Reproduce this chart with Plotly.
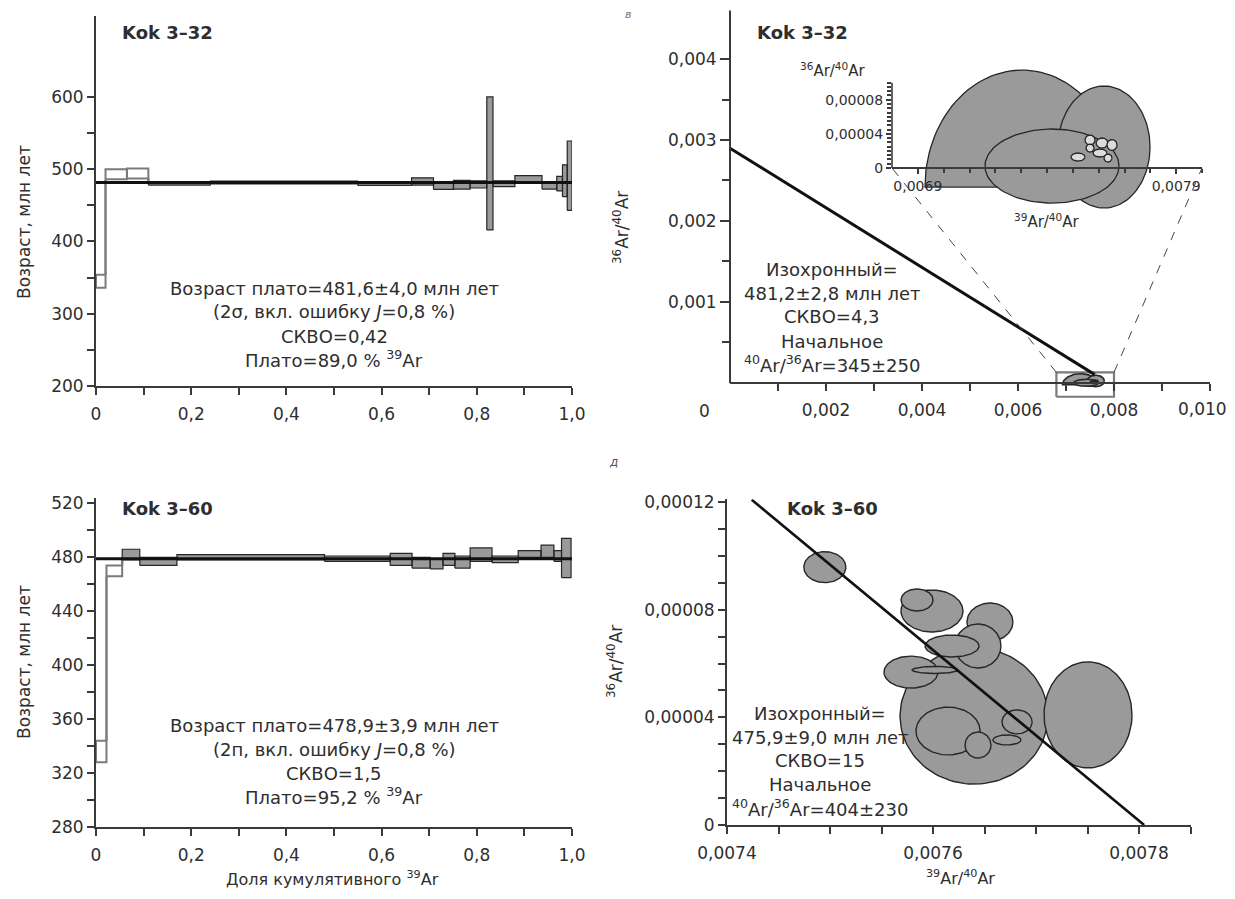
import numpy as np
import plotly.graph_objects as go

W, H = 1235, 899          # target picture size
OFF = 8                   # page body margin in the browser
FW, FH = W - 2 * OFF, H - 2 * OFF   # figure size so that it fits the window exactly
FONT = "DejaVu Sans"
TXT = "#2e2e2e"
AX = "#3a3a3a"
FILL = "#9a9a9a"
EDGE = "#262626"
OPEN_EDGE = "#7a7a7a"

# ======================= DATA =======================
# Kok 3-32 age spectrum: step start/end (cumulative 39Ar), age (Ma), error
k32_start = [0.000, 0.020, 0.065, 0.110, 0.240, 0.550, 0.663, 0.709, 0.751, 0.786, 0.821, 0.834, 0.880, 0.937, 0.968, 0.980, 0.990]
k32_end   = [0.020, 0.065, 0.110, 0.240, 0.550, 0.663, 0.709, 0.751, 0.786, 0.821, 0.834, 0.880, 0.937, 0.968, 0.980, 0.990, 1.000]
k32_age   = [345, 493, 494, 480, 481.5, 479.5, 483, 477, 478.5, 479, 508, 480, 486, 477.5, 480, 484, 491]
k32_err   = [9, 7, 7, 2, 2, 2, 5, 5, 6, 5, 92, 4, 5, 5, 10, 22, 48]
k32_in_plateau = [0, 0, 0, 1, 1, 1, 1, 1, 1, 1, 1, 1, 1, 1, 1, 1, 1]
k32_plateau_age = 481.6

# Kok 3-60 age spectrum
k60_start = [0.000, 0.022, 0.055, 0.092, 0.170, 0.480, 0.618, 0.664, 0.702, 0.729, 0.754, 0.786, 0.832, 0.887, 0.935, 0.962, 0.978]
k60_end   = [0.022, 0.055, 0.092, 0.170, 0.480, 0.618, 0.664, 0.702, 0.729, 0.754, 0.786, 0.832, 0.887, 0.935, 0.962, 0.978, 0.998]
k60_age   = [336, 470, 482, 477, 480, 479, 478.5, 476, 475, 478.5, 476.5, 482, 478.5, 482.5, 484.5, 481, 479.5]
k60_err   = [8, 4, 4, 3, 2, 2, 4.5, 4, 3.5, 4.5, 4.5, 5, 2.5, 2.5, 4.5, 4, 14.5]
k60_in_plateau = [0, 0, 1, 1, 1, 1, 1, 1, 1, 1, 1, 1, 1, 1, 1, 1, 1]
k60_plateau_age = 478.9

# Kok 3-32 isochron: error ellipses (39Ar/40Ar, 36Ar/40Ar)
b_ell_cx = [0.0073032, 0.0076207, 0.0074194, 0.00752, 0.0075665, 0.0076129, 0.0076516, 0.0076052, 0.0076361, 0.0075665]
b_ell_cy = [-2.23e-5, 2.46e-5, 2.3e-6, 1.29e-5, 3.28e-5, 2.93e-5, 2.7e-5, 1.76e-5, 1.17e-5, 2.34e-5]
b_ell_rx = [3.755e-4, 1.781e-4, 2.594e-4, 2.7e-5, 1.94e-5, 2.3e-5, 1.94e-5, 2.7e-5, 1.55e-5, 1.55e-5]
b_ell_ry = [1.371e-4, 7.15e-5, 4.34e-5, 4.7e-6, 5.9e-6, 5.9e-6, 6.4e-6, 4.7e-6, 4.7e-6, 4.7e-6]
b_ell_floor = [-2.23e-5, None, None, None, None, None, None, None, None, None]
b_ell_small = [0, 0, 0, 1, 1, 1, 1, 1, 1, 1]
b_initial_ratio = 345.0      # 40Ar/36Ar intercept
b_x_intercept = 0.00788      # 39Ar/40Ar intercept
b_line_x = [0.0, 0.0076]
b_zoom_box_x = [0.0068, 0.0080]
b_zoom_box_y = [-0.00017, 0.00013]

# Kok 3-60 isochron: error ellipses
d_ell_cx = [0.0076398, 0.0077505, 0.007599, 0.0076553, 0.0076437, 0.0076185, 0.0075845, 0.0075786, 0.007602, 0.007495, 0.0076146, 0.0076437, 0.0076816, 0.0076718]
d_ell_cy = [4.05e-5, 4.09e-5, 7.95e-5, 7.54e-5, 6.65e-5, 6.65e-5, 8.36e-5, 5.68e-5, 5.76e-5, 9.58e-5, 3.49e-5, 2.97e-5, 3.83e-5, 3.16e-5]
d_ell_rx = [7.18e-5, 4.27e-5, 3.01e-5, 2.23e-5, 2.23e-5, 2.62e-5, 1.55e-5, 2.62e-5, 2.23e-5, 2.04e-5, 3.11e-5, 1.26e-5, 1.46e-5, 1.36e-5]
d_ell_ry = [2.53e-5, 1.97e-5, 7.8e-6, 7.06e-6, 8.17e-6, 4.09e-6, 4.09e-6, 5.94e-6, 1.3e-6, 5.76e-6, 8.9e-6, 4.83e-6, 4.46e-6, 1.86e-6]
d_initial_ratio = 404.0
d_x_intercept = 0.007805
d_line_x = [0.007424, 0.007805]

# Tick values / labels
a_xticks = [0, 0.2, 0.4, 0.6, 0.8, 1.0]
a_xlabels = ["0", "0,2", "0,4", "0,6", "0,8", "1,0"]
a_xminor = [0.1, 0.3, 0.5, 0.7, 0.9]
a_yticks = [200, 300, 400, 500, 600]
a_yminor = [250, 350, 450, 550]
c_yticks = [280, 320, 360, 400, 440, 480, 520]
c_yminor = [300, 340, 380, 420, 460, 500]
b_xticks = [0.002, 0.004, 0.006, 0.008, 0.010]
b_xlabels = ["0,002", "0,004", "0,006", "0,008", "0,010"]
b_xminor = [0.001, 0.003, 0.005, 0.007, 0.009]
b_yticks = [0.001, 0.002, 0.003, 0.004]
b_ylabels = ["0,001", "0,002", "0,003", "0,004"]
b_yminor = [0.0005, 0.0015, 0.0025, 0.0035]
i_xticks = [0.0069, 0.0079]
i_xlabels = ["0,0069", "0,0079"]
i_xminor = [0.0070, 0.0071, 0.0072, 0.0073, 0.0074, 0.0075, 0.0076, 0.0077, 0.0078, 0.0080]
i_yticks = [0, 0.00004, 0.00008]
i_ylabels = ["0", "0,00004", "0,00008"]
i_yminor = [0.000005 * k for k in range(1, 21) if k % 8 != 0]
i_ytop = 0.0001
d_xticks = [0.0074, 0.0076, 0.0078]
d_xlabels = ["0,0074", "0,0076", "0,0078"]
d_xminor = [0.00745, 0.0075, 0.00755, 0.00765, 0.0077, 0.00775, 0.00785]
d_yticks = [0, 0.00004, 0.00008, 0.00012]
d_ylabels = ["0", "0,00004", "0,00008", "0,00012"]
d_yminor = [0.00001, 0.00002, 0.00003, 0.00005, 0.00006, 0.00007, 0.00009, 0.0001, 0.00011]

# ======================= LAYOUT GEOMETRY (screen pixels) =======================
PA = dict(px=(96, 572, 16, 386), xr=[0, 1.0], yr=[200, 712])
PC = dict(px=(96, 572, 498, 827), xr=[0, 1.0], yr=[280, 524])
PB = dict(px=(730, 1210, 10.4, 400.8), xr=[0, 0.0100], yr=[-0.00022, 0.0046])
PD = dict(px=(727, 1190.5, 499.3, 825), xr=[0.0074, 0.00785], yr=[0, 0.000121])
PI = dict(px=(892, 1202, 65.6, 210.7), xr=[0.0068, 0.0080], yr=[-0.00005, 0.00012])


def fx(px):
    return (px - OFF) / FW


def fy(py):
    return 1 - (py - OFF) / FH


def to_paper(p, xv, yv):
    L, R, T, B = p["px"]
    x0, x1 = p["xr"]
    y0, y1 = p["yr"]
    px = L + (xv - x0) / (x1 - x0) * (R - L)
    py = B - (yv - y0) / (y1 - y0) * (B - T)
    return fx(px), fy(py)


def make_axis(p, which, tickvals, ticktext, minor_vals, anchor, fsize=17, **extra):
    L, R, T, B = p["px"]
    if which == "x":
        dom, rng = [fx(L), fx(R)], p["xr"]
    else:
        dom, rng = [fy(B), fy(T)], p["yr"]
    d = dict(domain=dom, range=rng, anchor=anchor, showgrid=False, zeroline=False,
             automargin=False, ticklabeloverflow="allow",
             showline=True, linecolor=AX, linewidth=2,
             tickmode="array", tickvals=tickvals, ticktext=ticktext,
             ticks="outside", ticklen=7, tickwidth=1.5, tickcolor=AX,
             tickfont=dict(family=FONT, size=fsize, color=TXT),
             minor=dict(tickmode="array", tickvals=minor_vals, ticks="outside",
                        ticklen=7, tickwidth=1.5, tickcolor=AX, showgrid=False),
             fixedrange=True)
    d.update(extra)
    return d


fig = go.Figure()


def add_spectrum(xa, ya, start, end, age, err, flag, plateau_age):
    n = len(age)
    cx, cy = [], []
    for i in range(1, n):
        a0, e0, a1, e1 = age[i - 1], err[i - 1], age[i], err[i]
        if a1 - e1 > a0 + e0:
            lo, hi = a0 + e0, a1 - e1
        elif a0 - e0 > a1 + e1:
            lo, hi = a1 + e1, a0 - e0
        else:
            continue
        cx += [start[i], start[i], None]
        cy += [lo, hi, None]
    fig.add_trace(go.Scatter(x=cx, y=cy, mode="lines", xaxis=xa, yaxis=ya,
                             line=dict(color=OPEN_EDGE, width=2.5), hoverinfo="skip"))
    for want, fillc, linec, lw in [(0, "white", OPEN_EDGE, 2), (1, FILL, EDGE, 1.2)]:
        xs, ys = [], []
        for i in range(n):
            if flag[i] != want:
                continue
            x0, x1 = start[i], end[i]
            y0, y1 = age[i] - err[i], age[i] + err[i]
            xs += [x0, x1, x1, x0, x0, None]
            ys += [y0, y0, y1, y1, y0, None]
        fig.add_trace(go.Scatter(x=xs, y=ys, mode="lines", fill="toself", fillcolor=fillc,
                                 xaxis=xa, yaxis=ya, line=dict(color=linec, width=lw),
                                 hoverinfo="skip"))
    fig.add_trace(go.Scatter(x=[0, 1.0], y=[plateau_age, plateau_age], mode="lines",
                             xaxis=xa, yaxis=ya, line=dict(color="#111", width=3),
                             hoverinfo="skip"))


def ellipse_points(cx, cy, rx, ry, floor=None, n=120):
    t = np.linspace(0, 2 * np.pi, n)
    x = cx + rx * np.cos(t)
    y = cy + ry * np.sin(t)
    if floor is not None:
        y = np.maximum(y, floor)
    return x, y


def add_ellipses(xa, ya, cxs, cys, rxs, rys, floors=None, small=None, lw=1.3):
    for k in range(len(cxs)):
        fl = floors[k] if floors is not None else None
        x, y = ellipse_points(cxs[k], cys[k], rxs[k], rys[k], fl)
        is_small = small is not None and small[k] == 1
        fig.add_trace(go.Scatter(x=x, y=y, mode="lines", fill="toself",
                                 fillcolor="#dcdcdc" if is_small else FILL,
                                 line=dict(color=EDGE, width=lw), xaxis=xa, yaxis=ya,
                                 hoverinfo="skip"))


# ---- panel A / C spectra ----
add_spectrum("x", "y", k32_start, k32_end, k32_age, k32_err, k32_in_plateau, k32_plateau_age)
add_spectrum("x3", "y3", k60_start, k60_end, k60_age, k60_err, k60_in_plateau, k60_plateau_age)

# ---- panel B (main isochron Kok 3-32) ----
bx, by = b_zoom_box_x, b_zoom_box_y
fig.add_trace(go.Scatter(x=[bx[0], bx[1], bx[1], bx[0], bx[0]], y=[by[0], by[0], by[1], by[1], by[0]],
                         mode="lines", line=dict(color=OPEN_EDGE, width=2.2), xaxis="x2", yaxis="y2",
                         hoverinfo="skip"))
add_ellipses("x2", "y2", b_ell_cx, b_ell_cy, b_ell_rx, b_ell_ry, b_ell_floor, b_ell_small, lw=1.6)
blx = np.array(b_line_x)
fig.add_trace(go.Scatter(x=blx, y=(1.0 / b_initial_ratio) * (1 - blx / b_x_intercept), mode="lines",
                         line=dict(color="#111", width=3), xaxis="x2", yaxis="y2", hoverinfo="skip"))

# ---- inset ----
add_ellipses("x5", "y5", b_ell_cx, b_ell_cy, b_ell_rx, b_ell_ry, b_ell_floor, b_ell_small, lw=1.3)

# ---- panel D (isochron Kok 3-60) ----
add_ellipses("x4", "y4", d_ell_cx, d_ell_cy, d_ell_rx, d_ell_ry, lw=1.4)
dlx = np.array(d_line_x)
fig.add_trace(go.Scatter(x=dlx, y=(1.0 / d_initial_ratio) * (1 - dlx / d_x_intercept), mode="lines",
                         line=dict(color="#111", width=2.6), xaxis="x4", yaxis="y4", hoverinfo="skip"))

# ======================= AXES =======================
b_x_pos = to_paper(PB, 0, 0)[1]
i_x_pos = to_paper(PI, PI["xr"][0], 0)[1]

# the last label of panel B sits at the window edge: it is written as a text nudged inwards
b_xlabels_axis = b_xlabels[:-1] + [""]

layout_axes = dict(
    xaxis=make_axis(PA, "x", a_xticks, a_xlabels, a_xminor, "y", ticklabelstandoff=5),
    yaxis=make_axis(PA, "y", a_yticks, [str(v) for v in a_yticks], a_yminor, "x"),
    xaxis3=make_axis(PC, "x", a_xticks, a_xlabels, a_xminor, "y3", ticklabelstandoff=5),
    yaxis3=make_axis(PC, "y", c_yticks, [str(v) for v in c_yticks], c_yminor, "x3"),
    xaxis2=make_axis(PB, "x", b_xticks, b_xlabels_axis, b_xminor, "free", position=b_x_pos,
                     ticklabelstandoff=5),
    yaxis2=make_axis(PB, "y", b_yticks, b_ylabels, b_yminor, "x2", showline=False, ticklen=9),
    xaxis4=make_axis(PD, "x", d_xticks, d_xlabels, d_xminor, "y4", ticklabelstandoff=5),
    yaxis4=make_axis(PD, "y", d_yticks, d_ylabels, d_yminor, "x4"),
    xaxis5=make_axis(PI, "x", i_xticks, i_xlabels, i_xminor, "free", fsize=14, position=i_x_pos,
                     ticklen=5),
    yaxis5=make_axis(PI, "y", i_yticks, i_ylabels, i_yminor, "x5", fsize=14, showline=False,
                     ticklen=5),
)
layout_axes["yaxis5"]["minor"]["ticklen"] = 4
layout_axes["xaxis5"]["minor"]["ticklen"] = 4

# ======================= SHAPES =======================
shapes = []
p0 = to_paper(PB, 0, 0)
p1 = to_paper(PB, 0, PB["yr"][1])
shapes.append(dict(type="line", xref="paper", yref="paper", x0=p0[0], y0=p0[1], x1=p1[0], y1=p1[1],
                   line=dict(color=AX, width=2)))
q0 = to_paper(PI, PI["xr"][0], 0)
q1 = to_paper(PI, PI["xr"][0], i_ytop)
shapes.append(dict(type="line", xref="paper", yref="paper", x0=q0[0], y0=q0[1], x1=q1[0], y1=q1[1],
                   line=dict(color=AX, width=1.6)))
for xv in b_zoom_box_x:
    s0 = to_paper(PB, xv, b_zoom_box_y[1])
    s1 = to_paper(PI, xv, 0)
    shapes.append(dict(type="line", xref="paper", yref="paper", x0=s0[0], y0=s0[1], x1=s1[0], y1=s1[1],
                       line=dict(color="#444", width=1, dash="dash")))

# ======================= ANNOTATIONS =======================
def ann(text, px, py, size=18, angle=0, xanchor="center", color=TXT):
    return dict(text=text, x=fx(px), y=fy(py), xref="paper", yref="paper", showarrow=False,
                xanchor=xanchor, yanchor="middle", textangle=angle,
                font=dict(family=FONT, size=size, color=color))

last_b = to_paper(PB, b_xticks[-1], 0)
annotations = [
    dict(text=b_xlabels[-1], x=last_b[0], y=last_b[1], xref="paper", yref="paper", showarrow=False,
         xanchor="right", yanchor="top", xshift=19, yshift=-14,
         font=dict(family=FONT, size=17, color=TXT)),
    ann("<b>Kok 3–32</b>", 167, 33, 18),
    ann("<b>Kok 3–32</b>", 802, 33, 18),
    ann("<b>Kok 3–60</b>", 167, 508, 18),
    ann("<b>Kok 3–60</b>", 832, 508, 18),
    ann("Возраст, млн лет", 24, 222, 17, -90),
    ann("Возраст, млн лет", 24, 662, 17, -90),
    ann("<sup>36</sup>Ar/<sup>40</sup>Ar", 621, 228, 17, -90),
    ann("<sup>36</sup>Ar/<sup>40</sup>Ar", 615, 662, 17, -90),
    ann("Доля кумулятивного <sup>39</sup>Ar", 332, 878, 16),
    ann("<sup>39</sup>Ar/<sup>40</sup>Ar", 960, 877, 16),
    ann("0", 704, 411, 17),
    ann("<sup>36</sup>Ar/<sup>40</sup>Ar", 832, 70, 15),
    ann("<sup>39</sup>Ar/<sup>40</sup>Ar", 1046, 221, 15),
    ann("<i>в</i>", 628, 14, 11, 0, "center", "#777"),
    ann("<i>д</i>", 613, 462, 12, 0, "center", "#555"),
    ann("Возраст плато=481,6±4,0 млн лет", 334, 288),
    ann("(2σ, вкл. ошибку <i>J</i>=0,8 %)", 334, 312),
    ann("СКВО=0,42", 334, 336),
    ann("Плато=89,0 % <sup>39</sup>Ar", 334, 359),
    ann("Возраст плато=478,9±3,9 млн лет", 334, 725),
    ann("(2п, вкл. ошибку <i>J</i>=0,8 %)", 334, 749),
    ann("СКВО=1,5", 334, 773),
    ann("Плато=95,2 % <sup>39</sup>Ar", 334, 796),
    ann("Изохронный=", 832, 269),
    ann("481,2±2,8 млн лет", 832, 293),
    ann("СКВО=4,3", 832, 317),
    ann("Начальное", 832, 341),
    ann("<sup>40</sup>Ar/<sup>36</sup>Ar=345±250", 832, 364),
    ann("Изохронный=", 820, 713),
    ann("475,9±9,0 млн лет", 820, 737),
    ann("СКВО=15", 820, 760),
    ann("Начальное", 820, 784),
    ann("<sup>40</sup>Ar/<sup>36</sup>Ar=404±230", 820, 808),
]

fig.update_layout(
    template="none",
    width=FW, height=FH, autosize=False,
    margin=dict(l=0, r=0, t=0, b=0, pad=0),
    paper_bgcolor="white", plot_bgcolor="rgba(0,0,0,0)",
    showlegend=False,
    shapes=shapes, annotations=annotations,
    font=dict(family=FONT, color=TXT),
    **layout_axes,
)

fig.write_html("out.html")
